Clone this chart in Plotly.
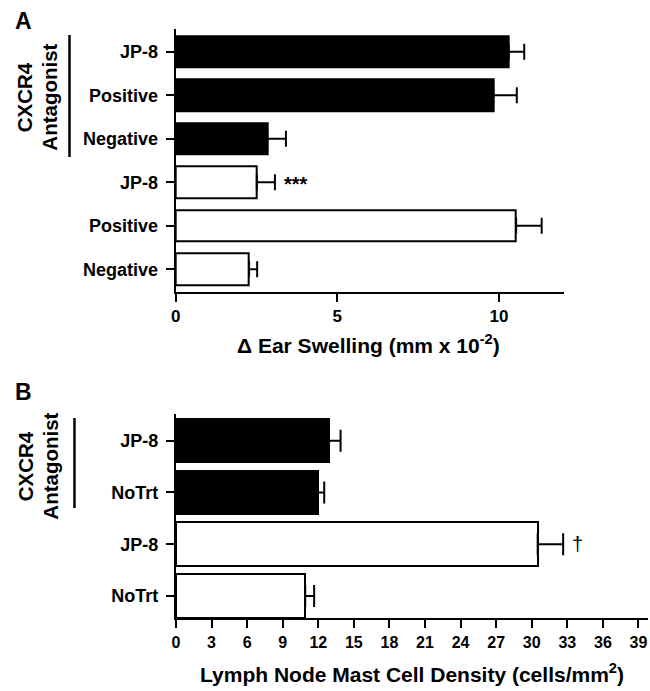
import plotly.graph_objects as go

FONT = "Liberation Sans, Arial, Helvetica, sans-serif"

# Panel A data (top to bottom)
a_labels = ["JP-8", "Positive", "Negative", "JP-8", "Positive", "Negative"]
a_values = [10.3, 9.82, 2.83, 2.51, 10.53, 2.27]
a_errors = [0.48, 0.73, 0.58, 0.56, 0.79, 0.25]
a_fill = ["black", "black", "black", "white", "white", "white"]

# Panel B data (top to bottom)
b_labels = ["JP-8", "NoTrt", "JP-8", "NoTrt"]
b_values = [12.9, 11.95, 30.5, 10.9]
b_errors = [0.98, 0.55, 2.15, 0.75]
b_fill = ["black", "black", "white", "white"]

a_pos = list(range(len(a_labels)))
b_pos = list(range(len(b_labels)))

W, H = 650, 691

def px(x):
    return x / W

def py(y):
    return 1 - y / H

fig = go.Figure()

fig.add_trace(go.Bar(
    x=a_values, y=a_pos, orientation="h", width=0.73,
    marker=dict(color=a_fill, line=dict(color="black", width=2)),
    error_x=dict(type="data", array=a_errors, arrayminus=[0]*len(a_errors),
                 symmetric=False, color="black", thickness=2, width=8),
    xaxis="x", yaxis="y", showlegend=False,
))

fig.add_trace(go.Bar(
    x=b_values, y=b_pos, orientation="h", width=0.84,
    marker=dict(color=b_fill, line=dict(color="black", width=2)),
    error_x=dict(type="data", array=b_errors, arrayminus=[0]*len(b_errors),
                 symmetric=False, color="black", thickness=2, width=11),
    xaxis="x2", yaxis="y2", showlegend=False,
))

axis_common = dict(
    showgrid=False, zeroline=False, showline=True, linecolor="black", linewidth=2,
    ticks="outside", ticklen=8, tickwidth=2, tickcolor="black",
)

fig.update_layout(
    width=W, height=H,
    margin=dict(l=0, r=0, t=0, b=0),
    paper_bgcolor="white", plot_bgcolor="white",
    font=dict(family=FONT, color="black"),
    bargap=0,
    xaxis=dict(domain=[px(172), px(563)], anchor="y", range=[0, 12],
               tickvals=[0, 5, 10], tickfont=dict(size=17, family=FONT, weight="bold"),
               **axis_common),
    yaxis=dict(domain=[py(291.7), py(29.3)], anchor="x",
               range=[5.515, -0.515], tickvals=a_pos, ticktext=a_labels,
               tickfont=dict(size=18, family=FONT, weight="bold"),
               ticklabelstandoff=4,
               **axis_common),
    xaxis2=dict(domain=[px(172.3), px(648.3)], anchor="y2", range=[0, 39.83],
                tickvals=list(range(0, 40, 3)),
                tickfont=dict(size=16, family=FONT, weight="bold"),
                **axis_common),
    yaxis2=dict(domain=[py(618.3), py(414)], anchor="x2",
                range=[3.43, -0.515], tickvals=b_pos, ticktext=b_labels,
                tickfont=dict(size=18, family=FONT, weight="bold"),
                ticklabelstandoff=4,
                **axis_common),
)

def note(text, x, y, size, angle=0):
    return dict(text=text, x=x, y=y, xref="paper", yref="paper", showarrow=False,
                xanchor="center", yanchor="middle", textangle=angle,
                font=dict(size=size, family=FONT))

ann = []
# Panel letters
ann.append(note("<b>A</b>", px(18.5), py(21), 23))
ann.append(note("<b>B</b>", px(18.5), py(392), 23))
# Group labels
ann.append(note("<b>CXCR4</b>", px(20.5), py(97), 20.5, -90))
ann.append(note("<b>Antagonist</b>", px(45), py(97), 20.5, -90))
ann.append(note("<b>CXCR4</b>", px(20.5), py(466), 20.5, -90))
ann.append(note("<b>Antagonist</b>", px(45), py(466), 20.5, -90))
# Axis titles
ann.append(note("<b>\u0394 Ear Swelling (mm x 10<sup>-2</sup>)</b>", px(366), py(344), 21))
ann.append(note("<b>Lymph Node Mast Cell Density (cells/mm<sup>2</sup>)</b>", px(410), py(673), 21))
# Significance marks
ann.append(dict(text="<b>***</b>", x=a_values[3] + a_errors[3], y=a_pos[3], xref="x", yref="y",
                xanchor="left", yanchor="middle", xshift=7, yshift=-2, showarrow=False,
                font=dict(size=20, family=FONT)))
ann.append(dict(text="\u2020", x=b_values[2] + b_errors[2], y=b_pos[2], xref="x2", yref="y2",
                xanchor="left", yanchor="middle", xshift=7, showarrow=False,
                font=dict(size=20, family=FONT)))

fig.update_layout(annotations=ann)

# Bracket lines next to the antagonist groups
fig.add_shape(type="line", xref="paper", yref="paper", x0=px(65), x1=px(65), y0=py(35), y1=py(157),
              line=dict(color="black", width=2.5))
fig.add_shape(type="line", xref="paper", yref="paper", x0=px(70), x1=px(70), y0=py(418), y1=py(508),
              line=dict(color="black", width=2.5))

fig.write_html("out.html", config={"displayModeBar": False},
               post_script="document.body.style.margin='0';document.body.style.overflow='hidden';")
